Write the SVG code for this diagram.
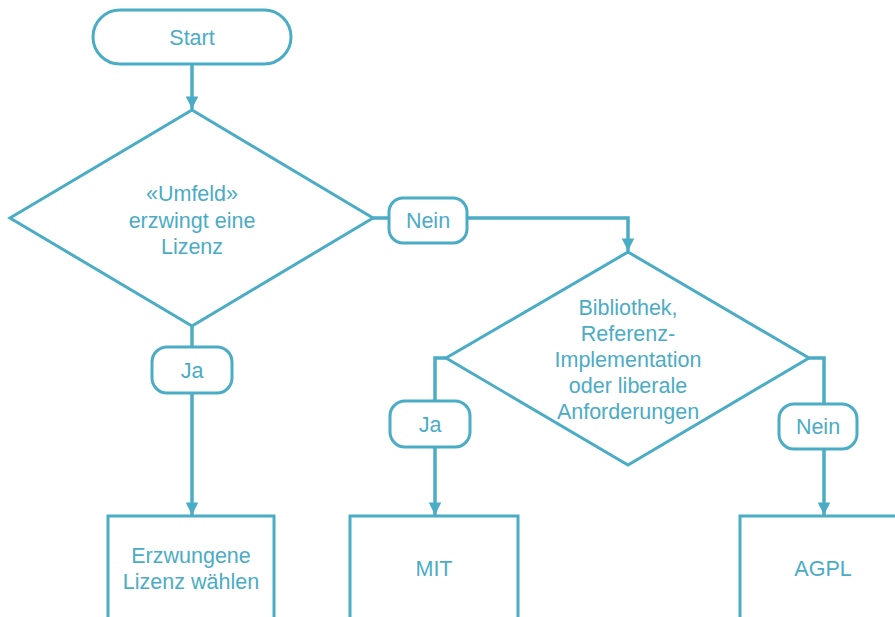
<svg xmlns="http://www.w3.org/2000/svg" width="895" height="617" viewBox="0 0 895 617">
  <style>
    .shape { fill: #ffffff; stroke: #4bacc6; stroke-width: 3; }
    .edge { fill: none; stroke: #4bacc6; stroke-width: 3.5; }
    text { font-family: "Liberation Sans", Arial, sans-serif; font-size: 21.5px; fill: #4bacc6; text-anchor: middle; }
  </style>
  <defs>
    <marker id="arrow" viewBox="0 0 10 10" refX="10" refY="5" markerWidth="4" markerHeight="3.6" orient="auto" markerUnits="strokeWidth">
      <path d="M0,0 L10,5 L0,10 z" fill="#4bacc6"/>
    </marker>
  </defs>

  <g id="connectors">
    <path class="edge" d="M192,64 V109" marker-end="url(#arrow)"/>
    <path class="edge" d="M373,218 H628 V251" marker-end="url(#arrow)"/>
    <path class="edge" d="M192,326 V515" marker-end="url(#arrow)"/>
    <path class="edge" d="M446,358 H435 V515" marker-end="url(#arrow)"/>
    <path class="edge" d="M809,358 H824 V515" marker-end="url(#arrow)"/>
  </g>

  <g id="start">
    <rect class="shape" x="93" y="10" width="198" height="54" rx="27"/>
    <text x="192" y="45">Start</text>
  </g>

  <g id="decision-umfeld">
    <polygon class="shape" points="192,110 373,218 192,326 10,218"/>
    <text x="192" y="201">«Umfeld»</text>
    <text x="192" y="228">erzwingt eine</text>
    <text x="192" y="254">Lizenz</text>
  </g>

  <g id="label-nein-1">
    <rect class="shape" x="389" y="198" width="78" height="45" rx="14"/>
    <text x="428" y="228">Nein</text>
  </g>

  <g id="decision-bibliothek">
    <polygon class="shape" points="628,252 809,358 628,465 446,358"/>
    <text x="628" y="315">Bibliothek,</text>
    <text x="628" y="341">Referenz-</text>
    <text x="628" y="367">Implementation</text>
    <text x="628" y="393">oder liberale</text>
    <text x="628" y="419">Anforderungen</text>
  </g>

  <g id="label-ja-1">
    <rect class="shape" x="152" y="347" width="80" height="46" rx="15"/>
    <text x="192" y="378">Ja</text>
  </g>

  <g id="label-ja-2">
    <rect class="shape" x="390" y="401" width="80" height="46" rx="15"/>
    <text x="430" y="432">Ja</text>
  </g>

  <g id="label-nein-2">
    <rect class="shape" x="779" y="404" width="78" height="45" rx="15"/>
    <text x="818" y="434">Nein</text>
  </g>

  <g id="box-erzwungen">
    <rect class="shape" x="108" y="516" width="166" height="120"/>
    <text x="191" y="563">Erzwungene</text>
    <text x="191" y="589">Lizenz wählen</text>
  </g>

  <g id="box-mit">
    <rect class="shape" x="350" y="516" width="168" height="120"/>
    <text x="434" y="576">MIT</text>
  </g>

  <g id="box-agpl">
    <rect class="shape" x="740" y="516" width="170" height="120"/>
    <text x="823" y="576">AGPL</text>
  </g>
</svg>
